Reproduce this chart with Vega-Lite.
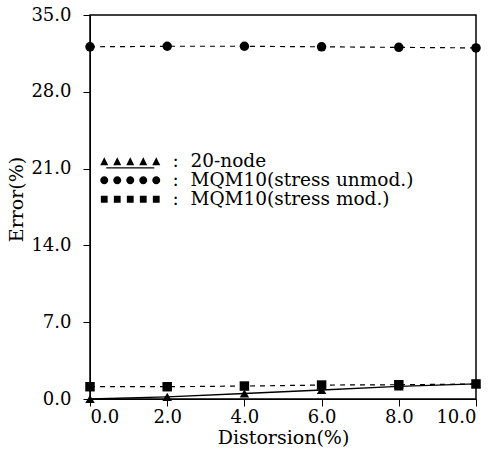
{
  "$schema": "https://vega.github.io/schema/vega-lite/v6.json",
  "width": 386,
  "height": 384,
  "autosize": "none",
  "padding": {"left": 90, "top": 15, "right": 19, "bottom": 50},
  "background": "white",
  "config": {
    "font": "DejaVu Serif",
    "view": {"stroke": "black", "strokeWidth": 1.5},
    "axis": {
      "labelFont": "DejaVu Serif",
      "titleFont": "DejaVu Serif",
      "labelFontSize": 18,
      "titleFontSize": 19,
      "labelColor": "black",
      "titleColor": "black",
      "titleFontWeight": "normal",
      "domainColor": "black",
      "tickColor": "black",
      "tickSize": 7,
      "grid": false
    }
  },
  "data": {
    "values": [
      {"d": 0, "err": 0.0, "series": "20-node"},
      {"d": 2, "err": 0.2, "series": "20-node"},
      {"d": 4, "err": 0.5, "series": "20-node"},
      {"d": 6, "err": 0.82, "series": "20-node"},
      {"d": 8, "err": 1.15, "series": "20-node"},
      {"d": 10, "err": 1.37, "series": "20-node"},
      {"d": 0, "err": 32.1, "series": "MQM10(stress unmod.)"},
      {"d": 2, "err": 32.15, "series": "MQM10(stress unmod.)"},
      {"d": 4, "err": 32.15, "series": "MQM10(stress unmod.)"},
      {"d": 6, "err": 32.1, "series": "MQM10(stress unmod.)"},
      {"d": 8, "err": 32.05, "series": "MQM10(stress unmod.)"},
      {"d": 10, "err": 32.0, "series": "MQM10(stress unmod.)"},
      {"d": 0, "err": 1.12, "series": "MQM10(stress mod.)"},
      {"d": 2, "err": 1.12, "series": "MQM10(stress mod.)"},
      {"d": 4, "err": 1.18, "series": "MQM10(stress mod.)"},
      {"d": 6, "err": 1.27, "series": "MQM10(stress mod.)"},
      {"d": 8, "err": 1.3, "series": "MQM10(stress mod.)"},
      {"d": 10, "err": 1.37, "series": "MQM10(stress mod.)"}
    ]
  },
  "encoding": {
    "x": {
      "field": "d", "type": "quantitative",
      "scale": {"domain": [0, 10], "nice": false},
      "axis": {"values": [0, 2, 4, 6, 8, 10], "format": ".1f", "title": "Distorsion(%)", "labelPadding": 2, "titlePadding": 2}
    },
    "y": {
      "field": "err", "type": "quantitative",
      "scale": {"domain": [0, 35], "nice": false},
      "axis": {"values": [0, 7, 14, 21, 28, 35], "format": ".1f", "title": "Error(%)", "labelPadding": 12, "titleX": -64, "titleY": 184}
    }
  },
  "layer": [
    {
      "transform": [{"filter": "datum.series === '20-node'"}],
      "mark": {"type": "line", "color": "black", "strokeWidth": 1.3},
      "encoding": {}
    },
    {
      "transform": [{"filter": "datum.series !== '20-node'"}],
      "mark": {"type": "line", "color": "black", "strokeWidth": 1.2, "strokeDash": [5, 5]},
      "encoding": {"detail": {"field": "series"}}
    },
    {
      "mark": {"type": "point", "filled": true, "color": "black", "opacity": 1, "size": 90},
      "encoding": {
        "shape": {
          "field": "series", "type": "nominal",
          "scale": {"domain": ["20-node", "MQM10(stress unmod.)", "MQM10(stress mod.)"], "range": ["triangle-up", "circle", "square"]},
          "legend": null
        }
      }
    },
    {
      "mark": {"type": "point", "filled": true, "color": "black", "opacity": 0, "size": 64},
      "encoding": {
        "shape": {
          "field": "series", "type": "nominal",
          "scale": {
            "domain": ["20-node", "MQM10(stress unmod.)", "MQM10(stress mod.)"],
            "range": [
              "M-7.5,1L-6.5,-1L-5.5,1ZM-4.25,1L-3.25,-1L-2.25,1ZM-1,1L0,-1L1,1ZM2.25,1L3.25,-1L4.25,1ZM5.5,1L6.5,-1L7.5,1ZM-6,1.5h12v0.3h-12Z",
              "M-7.5,0A1,1 0 1,1 -5.5,0A1,1 0 1,1 -7.5,0ZM-4.25,0A1,1 0 1,1 -2.25,0A1,1 0 1,1 -4.25,0ZM-1,0A1,1 0 1,1 1,0A1,1 0 1,1 -1,0ZM2.25,0A1,1 0 1,1 4.25,0A1,1 0 1,1 2.25,0ZM5.5,0A1,1 0 1,1 7.5,0A1,1 0 1,1 5.5,0Z",
              "M-7.35,-0.85h1.7v1.7h-1.7ZM-4.1,-0.85h1.7v1.7h-1.7ZM-0.85,-0.85h1.7v1.7h-1.7ZM2.4,-0.85h1.7v1.7h-1.7ZM5.65,-0.85h1.7v1.7h-1.7Z"
            ]
          },
          "legend": {
            "title": null,
            "orient": "none",
            "legendX": 31,
            "legendY": 137,
            "labelExpr": "': \u00a0' + datum.label",
            "labelFont": "DejaVu Serif",
            "labelFontSize": 18.5,
            "labelColor": "black",
            "labelLimit": 0,
            "labelOffset": 33,
            "symbolFillColor": "black",
            "symbolStrokeColor": "black",
            "symbolStrokeWidth": 0,
            "symbolOpacity": 1,
            "symbolSize": 64,
            "rowPadding": -1
          }
        }
      }
    }
  ],
  "resolve": {"scale": {"shape": "independent"}, "legend": {"shape": "independent"}}
}
